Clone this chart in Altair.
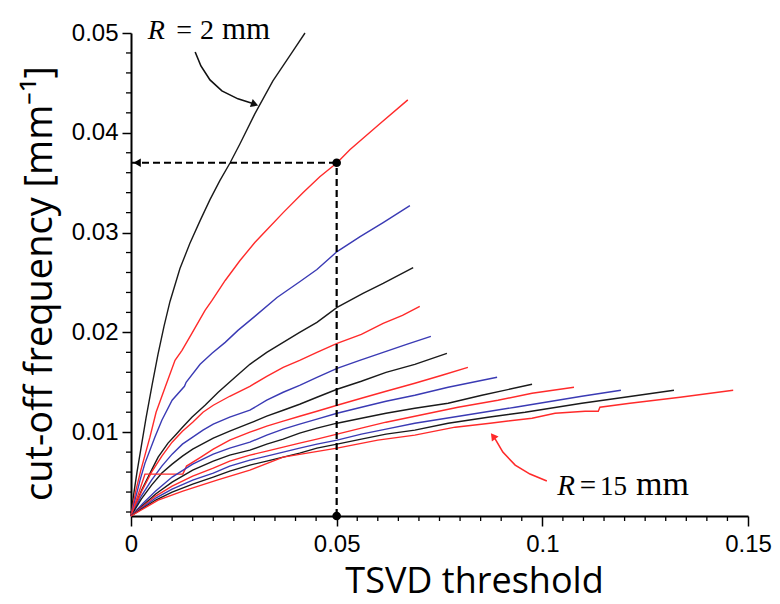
import altair as alt
import pandas as pd

# ---------------- data ----------------
R_values = [2, 3, 4, 5, 6, 7, 8, 9, 10, 11, 12, 13, 14, 15]
R_colors = ["#1a1a1a", "#ff2a2a", "#3a3ab4"] * 5

R2_x = [0, 0.00024, 0.00073, 0.00146, 0.00243, 0.00365, 0.00511, 0.00656, 0.00802, 0.00948, 0.0119, 0.0143, 0.0168, 0.0192, 0.0216, 0.0241, 0.0265, 0.0301, 0.0345, 0.0394, 0.0423]
R2_y = [0.0016, 0.0025, 0.0040, 0.0060, 0.0084, 0.0114, 0.0147, 0.0178, 0.0206, 0.0231, 0.0264, 0.0289, 0.0312, 0.0333, 0.0352, 0.0370, 0.0389, 0.0419, 0.0452, 0.0482, 0.0500]

R3_x = [0, 0.0012, 0.0024, 0.0036, 0.0046, 0.0061, 0.0083, 0.0107, 0.0124, 0.0148, 0.0180, 0.0197, 0.0229, 0.0265, 0.0301, 0.0331, 0.0370, 0.0418, 0.0459, 0.0501, 0.0532, 0.0605, 0.0673]
R3_y = [0.0016, 0.0042, 0.0062, 0.0080, 0.0095, 0.0120, 0.0145, 0.0172, 0.0182, 0.0199, 0.0222, 0.0232, 0.0252, 0.0272, 0.0290, 0.0303, 0.0320, 0.0340, 0.0356, 0.0370, 0.0383, 0.0409, 0.0433]

R4_x = [0, 0.0022, 0.0034, 0.0058, 0.0075, 0.0100, 0.0130, 0.0134, 0.0168, 0.0197, 0.0229, 0.0260, 0.0301, 0.0355, 0.0411, 0.0452, 0.0501, 0.0557, 0.0613, 0.0678]
R4_y = [0.0016, 0.0052, 0.0069, 0.0095, 0.0112, 0.0132, 0.0146, 0.0150, 0.0168, 0.0179, 0.0190, 0.0202, 0.0216, 0.0235, 0.0251, 0.0263, 0.0281, 0.0296, 0.0310, 0.0327]

R5_x = [0, 0.0026, 0.0050, 0.0066, 0.0090, 0.0110, 0.0123, 0.0148, 0.0180, 0.0212, 0.0253, 0.0289, 0.0330, 0.0370, 0.0410, 0.0452, 0.0501, 0.0564, 0.0613, 0.0686]
R5_y = [0.0016, 0.0042, 0.0062, 0.0075, 0.0089, 0.0098, 0.0104, 0.0115, 0.0127, 0.0140, 0.0155, 0.0168, 0.0180, 0.0190, 0.0200, 0.0210, 0.0225, 0.0239, 0.0249, 0.0265]

R6_x = [0, 0.0025, 0.0050, 0.0075, 0.0100, 0.0125, 0.0150, 0.0175, 0.0200, 0.0240, 0.0289, 0.0330, 0.0370, 0.0410, 0.0452, 0.0501, 0.0560, 0.0613, 0.0660, 0.0702]
R6_y = [0.0016, 0.0040, 0.0060, 0.0076, 0.0090, 0.0101, 0.0110, 0.0120, 0.0127, 0.0136, 0.0146, 0.0156, 0.0165, 0.0172, 0.0180, 0.0189, 0.0198, 0.0209, 0.0217, 0.0226]

R7_x = [0, 0.0025, 0.0050, 0.0075, 0.0100, 0.0125, 0.0150, 0.0175, 0.0200, 0.0240, 0.0289, 0.0330, 0.0370, 0.0410, 0.0452, 0.0501, 0.0556, 0.0613, 0.0670, 0.0729]
R7_y = [0.0016, 0.0036, 0.0052, 0.0066, 0.0078, 0.0088, 0.0095, 0.0102, 0.0108, 0.0115, 0.0122, 0.0132, 0.0140, 0.0147, 0.0155, 0.0164, 0.0172, 0.0180, 0.0188, 0.0196]

R8_x = [0, 0.0025, 0.0050, 0.0075, 0.0100, 0.0125, 0.0150, 0.0200, 0.0240, 0.0289, 0.0330, 0.0370, 0.0410, 0.0452, 0.0501, 0.0560, 0.0620, 0.0690, 0.0768]
R8_y = [0.0016, 0.0033, 0.0047, 0.0059, 0.0068, 0.0076, 0.0083, 0.0094, 0.0101, 0.0109, 0.0116, 0.0122, 0.0128, 0.0135, 0.0143, 0.0151, 0.0160, 0.0168, 0.0179]

R9_x = [0, 0.0034, 0.0126, 0.0135, 0.0170, 0.0200, 0.0240, 0.0289, 0.0330, 0.0370, 0.0410, 0.0452, 0.0501, 0.0560, 0.0620, 0.0690, 0.0756, 0.0819]
R9_y = [0.0016, 0.0058, 0.0058, 0.0066, 0.0075, 0.0083, 0.0092, 0.0100, 0.0106, 0.0111, 0.0116, 0.0121, 0.0127, 0.0134, 0.0141, 0.0149, 0.0157, 0.0165]

R10_x = [0, 0.0030, 0.0060, 0.0100, 0.0150, 0.0200, 0.0240, 0.0289, 0.0330, 0.0370, 0.0410, 0.0452, 0.0501, 0.0560, 0.0620, 0.0690, 0.0771, 0.0890]
R10_y = [0.0016, 0.0029, 0.0041, 0.0055, 0.0068, 0.0078, 0.0084, 0.0090, 0.0097, 0.0103, 0.0108, 0.0113, 0.0119, 0.0125, 0.0131, 0.0137, 0.0145, 0.0155]

R11_x = [0, 0.0030, 0.0060, 0.0100, 0.0150, 0.0200, 0.0240, 0.0289, 0.0330, 0.0370, 0.0410, 0.0452, 0.0501, 0.0560, 0.0620, 0.0690, 0.0771, 0.0853, 0.0975]
R11_y = [0.0016, 0.0027, 0.0038, 0.0050, 0.0062, 0.0071, 0.0077, 0.0082, 0.0088, 0.0093, 0.0099, 0.0104, 0.0109, 0.0114, 0.0119, 0.0124, 0.0129, 0.0137, 0.0148]

R12_x = [0, 0.0030, 0.0060, 0.0100, 0.0150, 0.0200, 0.0240, 0.0289, 0.0330, 0.0370, 0.0410, 0.0452, 0.0501, 0.0560, 0.0620, 0.0690, 0.0795, 0.0892, 0.0975, 0.1077]
R12_y = [0.0016, 0.0026, 0.0036, 0.0046, 0.0056, 0.0064, 0.0071, 0.0077, 0.0081, 0.0085, 0.0089, 0.0093, 0.0098, 0.0104, 0.0110, 0.0116, 0.0125, 0.0132, 0.0139, 0.0145]

R13_x = [0, 0.0030, 0.0060, 0.0100, 0.0150, 0.0200, 0.0240, 0.0289, 0.0330, 0.0370, 0.0410, 0.0452, 0.0501, 0.0560, 0.0620, 0.0690, 0.0812, 0.0934, 0.1096, 0.1191]
R13_y = [0.0016, 0.0025, 0.0034, 0.0043, 0.0052, 0.0059, 0.0066, 0.0072, 0.0076, 0.0080, 0.0084, 0.0088, 0.0092, 0.0098, 0.0103, 0.0109, 0.0117, 0.0125, 0.0136, 0.0142]

R14_x = [0, 0.0030, 0.0060, 0.0100, 0.0150, 0.0200, 0.0240, 0.0289, 0.0330, 0.0370, 0.0410, 0.0452, 0.0501, 0.0560, 0.0620, 0.0690, 0.0771, 0.0868, 0.0958, 0.1096, 0.1200, 0.1320]
R14_y = [0.0016, 0.0024, 0.0032, 0.0040, 0.0048, 0.0055, 0.0061, 0.0067, 0.0071, 0.0075, 0.0079, 0.0084, 0.0088, 0.0093, 0.0098, 0.0102, 0.0109, 0.0115, 0.0120, 0.0129, 0.0135, 0.0142]

R15_x = [0, 0.0066, 0.0126, 0.0209, 0.0289, 0.0370, 0.0501, 0.0600, 0.0690, 0.0788, 0.0873, 0.0975, 0.1031, 0.1104, 0.1136, 0.1140, 0.1213, 0.1335, 0.1464]
R15_y = [0.0016, 0.0032, 0.0041, 0.0052, 0.0062, 0.0075, 0.0084, 0.0092, 0.0097, 0.0105, 0.0109, 0.0114, 0.0119, 0.0121, 0.0121, 0.0125, 0.0129, 0.0135, 0.0142]

curves_x = [R2_x, R3_x, R4_x, R5_x, R6_x, R7_x, R8_x, R9_x, R10_x, R11_x, R12_x, R13_x, R14_x, R15_x]
curves_y = [R2_y, R3_y, R4_y, R5_y, R6_y, R7_y, R8_y, R9_y, R10_y, R11_y, R12_y, R13_y, R14_y, R15_y]

# guide (dashed) at threshold 0.05 -> cut-off 0.037
guide_x = 0.05
guide_y = 0.037
y_min = 0.0016

x_major = [0, 0.05, 0.1, 0.15]
x_minor = [0.005, 0.01, 0.015, 0.02, 0.025, 0.03, 0.035, 0.04, 0.045,
           0.055, 0.06, 0.065, 0.07, 0.075, 0.08, 0.085, 0.09, 0.095,
           0.105, 0.11, 0.115, 0.12, 0.125, 0.13, 0.135, 0.14, 0.145]
y_major = [0.01, 0.02, 0.03, 0.04, 0.05]
y_minor = [0.002, 0.004, 0.006, 0.008, 0.012, 0.014, 0.016, 0.018,
           0.022, 0.024, 0.026, 0.028, 0.032, 0.034, 0.036, 0.038,
           0.042, 0.044, 0.046, 0.048]

# annotation arrows (data coordinates)
arrow_top_x = [0.0156, 0.0170, 0.0192, 0.0221, 0.0260, 0.0298]
arrow_top_y = [0.0481, 0.0467, 0.0453, 0.0442, 0.0434, 0.0429]
arrow_bot_x = [0.1011, 0.0970, 0.0934, 0.0904, 0.0887, 0.0882]
arrow_bot_y = [0.0051, 0.0058, 0.0067, 0.0080, 0.0092, 0.0095]

# annotation texts: pieces of "R = 2 mm" and "R = 15 mm"
ann_text = ["R", "=", "2", "mm", "R", "=", "15", "mm"]
ann_x = [0.0041, 0.0129, 0.0168, 0.0221, 0.1036, 0.1111, 0.1140, 0.1228]
ann_y = [0.0494, 0.0494, 0.0494, 0.0494, 0.0037, 0.0037, 0.0037, 0.0037]
ann_style = ["italic", "normal", "normal", "normal", "italic", "normal", "normal", "normal"]
ann_align = ["left", "center", "left", "left", "left", "center", "left", "left"]
ann_size = [28, 28, 28, 31, 29, 29, 27, 34]

# ---------------- build tables ----------------
rows = []
for R, c, xs_, ys_ in zip(R_values, R_colors, curves_x, curves_y):
    for i, (xv, yv) in enumerate(zip(xs_, ys_)):
        rows.append({"R": R, "color": c, "i": i, "x": xv, "y": yv})
df = pd.DataFrame(rows)

W, H = 617, 483
xs = alt.Scale(domain=[0, 0.15], nice=False, zero=False)
ys = alt.Scale(domain=[y_min, 0.05], nice=False, zero=False)

x_axis = alt.Axis(
    values=x_major, format=".2~f", tickSize=10, labelPadding=6,
    labelFlush=False, labelOverlap=False, grid=False,
    title="TSVD threshold", titleFont="Open Sans", titleFontSize=36,
    titleFontWeight="normal", titleX=343, titleY=76,
    titleAlign="center", titleBaseline="alphabetic",
)
y_axis = alt.Axis(
    values=y_major, format=".2f", tickSize=9, labelPadding=4,
    labelFlush=False, labelOverlap=False, grid=False,
    title="cut-off frequency [mm⁻¹]", titleFont="Open Sans", titleFontSize=38,
    titleFontWeight="normal", titleX=-80, titleY=250, titleAngle=-90,
    titleAlign="center", titleBaseline="alphabetic",
)

lines = alt.Chart(df).mark_line(strokeWidth=1.4).encode(
    x=alt.X("x:Q", scale=xs, axis=x_axis),
    y=alt.Y("y:Q", scale=ys, axis=y_axis),
    detail="R:N",
    color=alt.Color("color:N", scale=None),
    order="i:Q",
)

xminor_df = pd.DataFrame({"v": x_minor})
yminor_df = pd.DataFrame({"v": y_minor})
xminor = alt.Chart(xminor_df).mark_rule(color="black", strokeWidth=1.3).encode(
    x=alt.X("v:Q", scale=xs), y=alt.value(H), y2=alt.value(H + 5))
yminor = alt.Chart(yminor_df).mark_rule(color="black", strokeWidth=1.3).encode(
    y=alt.Y("v:Q", scale=ys), x=alt.value(0), x2=alt.value(-5))

hguide = alt.Chart(pd.DataFrame({"x": [0.0], "x2": [guide_x], "y": [guide_y]})).mark_rule(
    color="black", strokeWidth=2.2, strokeDash=[7, 4]).encode(
    x=alt.X("x:Q", scale=xs), x2="x2:Q", y=alt.Y("y:Q", scale=ys))
vguide = alt.Chart(pd.DataFrame({"x": [guide_x], "y": [y_min], "y2": [guide_y]})).mark_rule(
    color="black", strokeWidth=2.2, strokeDash=[7, 4]).encode(
    x=alt.X("x:Q", scale=xs), y=alt.Y("y:Q", scale=ys), y2="y2:Q")
dots = alt.Chart(pd.DataFrame({"x": [guide_x, guide_x], "y": [guide_y, y_min]})).mark_circle(
    color="black", size=75, opacity=1).encode(
    x=alt.X("x:Q", scale=xs), y=alt.Y("y:Q", scale=ys))
hhead = alt.Chart(pd.DataFrame({"x": [0.0015], "y": [guide_y]})).mark_point(
    shape="triangle-left", filled=True, color="black", size=70, opacity=1).encode(
    x=alt.X("x:Q", scale=xs), y=alt.Y("y:Q", scale=ys))

arr_df = pd.DataFrame({
    "x": arrow_top_x + arrow_bot_x,
    "y": arrow_top_y + arrow_bot_y,
    "k": ["top"] * len(arrow_top_x) + ["bot"] * len(arrow_bot_x),
    "c": ["#111111"] * len(arrow_top_x) + ["#ff2a2a"] * len(arrow_bot_x),
    "i": list(range(len(arrow_top_x))) + list(range(len(arrow_bot_x))),
})
arrows = alt.Chart(arr_df).mark_line(strokeWidth=1.6).encode(
    x=alt.X("x:Q", scale=xs), y=alt.Y("y:Q", scale=ys), detail="k:N",
    color=alt.Color("c:N", scale=None), order="i:Q")
heads_df = pd.DataFrame({
    "x": [arrow_top_x[-1], arrow_bot_x[-1]],
    "y": [arrow_top_y[-1], arrow_bot_y[-1]],
    "a": [110, 323],
    "c": ["#111111", "#ff2a2a"],
})
heads = alt.Chart(heads_df).mark_point(shape="triangle", filled=True, size=70, opacity=1).encode(
    x=alt.X("x:Q", scale=xs), y=alt.Y("y:Q", scale=ys),
    angle=alt.Angle("a:Q", scale=None), color=alt.Color("c:N", scale=None))

lab_df = pd.DataFrame({"x": ann_x, "y": ann_y, "t": ann_text, "st": ann_style,
                       "al": ann_align, "fs": ann_size})


def text_layer(sub, align, style):
    return alt.Chart(sub).mark_text(
        font="Liberation Serif", baseline="alphabetic", color="black",
        align=align, fontStyle=style).encode(
        x=alt.X("x:Q", scale=xs), y=alt.Y("y:Q", scale=ys), text="t:N",
        size=alt.Size("fs:Q", scale=None))


lab_italic = text_layer(lab_df[lab_df.st == "italic"], "left", "italic")
lab_left = text_layer(lab_df[(lab_df.st == "normal") & (lab_df.al == "left")], "left", "normal")
lab_center = text_layer(lab_df[lab_df.al == "center"], "center", "normal")

chart = alt.layer(
    lines, xminor, yminor, hguide, vguide, dots, hhead, arrows, heads,
    lab_italic, lab_left, lab_center,
).properties(
    width=W, height=H,
    autosize=alt.AutoSizeParams(type="none"),
    padding={"left": 123, "top": 25, "right": 24, "bottom": 88},
    background="white",
).configure_view(stroke=None).configure_axis(
    domainColor="black", domainWidth=2, tickColor="black", tickWidth=1.5,
    labelFont="Liberation Sans", labelFontSize=24, labelColor="black",
    titleColor="black",
)

chart.save("out.html", embed_options={"renderer": "svg", "actions": False})
